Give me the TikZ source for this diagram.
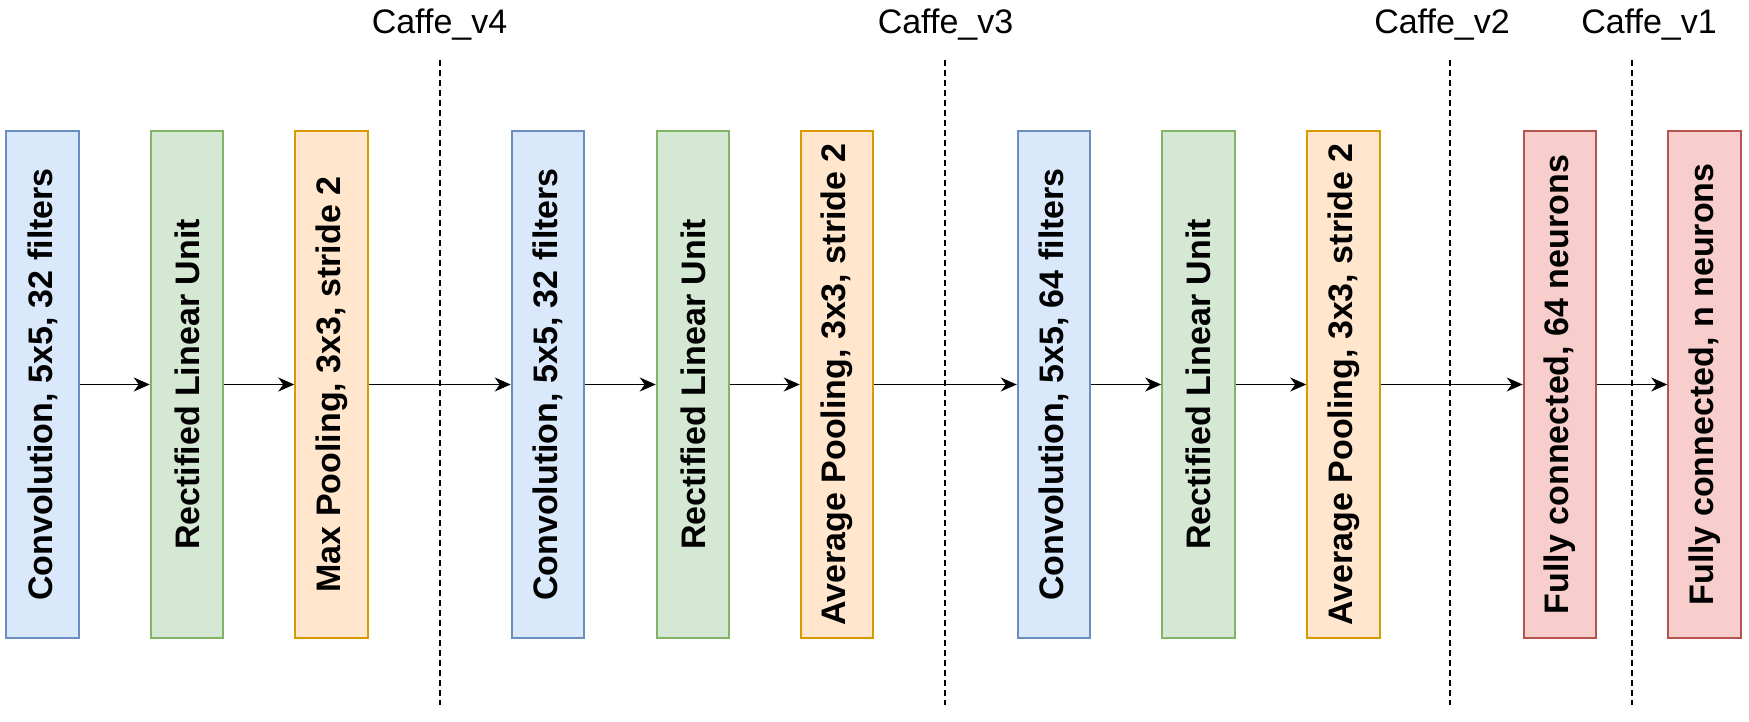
\documentclass[tikz,border=0pt]{standalone}
\usepackage{fontspec}
\setmainfont{Liberation Sans}
\usetikzlibrary{arrows.meta}
\definecolor{blueF}{HTML}{DAE8FC}\definecolor{blueD}{HTML}{6C8EBF}
\definecolor{greenF}{HTML}{D5E8D4}\definecolor{greenD}{HTML}{82B366}
\definecolor{orangeF}{HTML}{FFE6CC}\definecolor{orangeD}{HTML}{D79B00}
\definecolor{redF}{HTML}{F8CECC}\definecolor{redD}{HTML}{B85450}
\tikzset{
  layer/.style={draw, line width=2pt, minimum width=72.5pt, minimum height=506pt, inner sep=0pt,
    font=\fontsize{34}{40}\selectfont\bfseries},
  conv/.style={layer, fill=blueF, draw=blueD},
  relu/.style={layer, fill=greenF, draw=greenD},
  pool/.style={layer, fill=orangeF, draw=orangeD},
  fc/.style={layer, fill=redF, draw=redD},
  conn/.style={line width=1.3pt, -{Stealth[length=16pt,width=14pt,inset=5pt]}},
  cut/.style={line width=2pt, dash pattern=on 6pt off 4pt},
  cutlabel/.style={anchor=base, inner sep=0pt, font=\fontsize{34}{40}\selectfont}
}
\newcommand{\rt}[1]{\rotatebox{90}{#1}}
\begin{document}
\begin{tikzpicture}[x=1pt,y=-1pt]
\useasboundingbox (0,0) rectangle (1749,722);
% layers
\node[conv] (c1) at (42.5,384.5) {\rt{Convolution, 5x5, 32 filters}};
\node[relu] (r1) at (187,384.5) {\rt{Rectified Linear Unit}};
\node[pool] (p1) at (331.5,384.5) {\rt{Max Pooling, 3x3, stride 2}};
\node[conv] (c2) at (548,384.5) {\rt{Convolution, 5x5, 32 filters}};
\node[relu] (r2) at (693,384.5) {\rt{Rectified Linear Unit}};
\node[pool] (p2) at (837,384.5) {\rt{Average Pooling, 3x3, stride 2}};
\node[conv] (c3) at (1054,384.5) {\rt{Convolution, 5x5, 64 filters}};
\node[relu] (r3) at (1198.5,384.5) {\rt{Rectified Linear Unit}};
\node[pool] (p3) at (1343.5,384.5) {\rt{Average Pooling, 3x3, stride 2}};
\node[fc] (f1) at (1560,384.5) {\rt{Fully connected, 64 neurons}};
\node[fc] (f2) at (1704.5,384.5) {\rt{Fully connected, n neurons}};
% connectors
\foreach \a/\b in {c1/r1,r1/p1,p1/c2,c2/r2,r2/p2,p2/c3,c3/r3,r3/p3,p3/f1,f1/f2}
  \draw[conn] (\a.east) -- (\b.west);
% cut lines
\coordinate (t4) at (440,60); \coordinate (b4) at (440,705);
\coordinate (t3) at (945,60); \coordinate (b3) at (945,705);
\coordinate (t2) at (1450,60); \coordinate (b2) at (1450,705);
\coordinate (t1) at (1632,60); \coordinate (b1) at (1632,705);
\draw[cut] (t4) -- (b4);
\draw[cut] (t3) -- (b3);
\draw[cut] (t2) -- (b2);
\draw[cut] (t1) -- (b1);
\node[cutlabel] (l4) at (439.5,34) {Caffe\_v4};
\node[cutlabel] (l3) at (945.5,34) {Caffe\_v3};
\node[cutlabel] (l2) at (1442,34) {Caffe\_v2};
\node[cutlabel] (l1) at (1649,34) {Caffe\_v1};
\end{tikzpicture}
\end{document}
